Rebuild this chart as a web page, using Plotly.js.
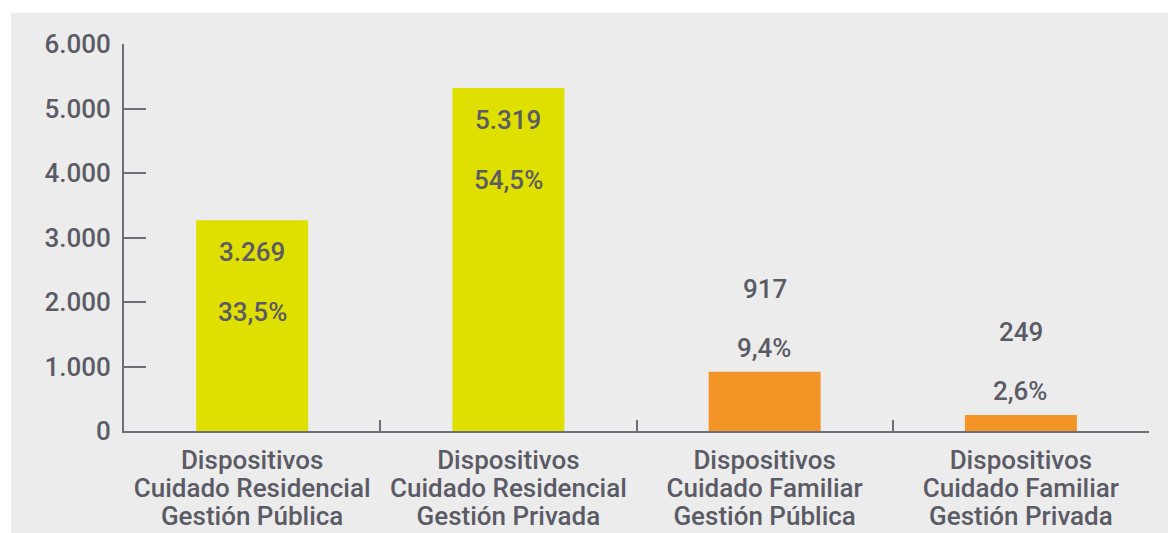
<!DOCTYPE html>
<html>
<head>
<meta charset="utf-8">
<script src="https://cdn.plot.ly/plotly-3.0.1.min.js"></script>
<style>
  html, body { margin: 0; padding: 0; background: #ffffff; width: 1168px; height: 533px; overflow: hidden; }
  #chart { position: absolute; left: 11px; top: 13px; width: 1157px; height: 520px; }
</style>
</head>
<body>
<div id="chart"></div>
<script>
const categoryLines = [
  ["Dispositivos", "Cuidado Residencial", "Gestión Pública"],
  ["Dispositivos", "Cuidado Residencial", "Gestión Privada"],
  ["Dispositivos", "Cuidado Familiar", "Gestión Pública"],
  ["Dispositivos", "Cuidado Familiar", "Gestión Privada"]
];
const values = [3269, 5319, 917, 249];
const valueLabels = ["3.269", "5.319", "917", "249"];
const percentLabels = ["33,5%", "54,5%", "9,4%", "2,6%"];
const barColors = ["#dfdf00", "#dfdf00", "#f39427", "#f39427"];
const yTickValues = [0, 1000, 2000, 3000, 4000, 5000, 6000];

const textColor = "#5b5b66";
const axisColor = "#6e6e78";
const fontFamily = "Roboto, 'Open Sans', sans-serif";

const categories = categoryLines.map(lines => lines.join("<br>"));
const categoryTickText = categoryLines.map(lines =>
  lines.map(l => '<span style="font-size:26px">' + l + '</span>').join("<br>"));

const annotations = [];
values.forEach((v, i) => {
  const inside = v > 2000;
  annotations.push({
    x: categories[i], y: v, xref: "x", yref: "y",
    text: valueLabels[i], showarrow: false,
    yanchor: "middle", yshift: inside ? -32 : 83,
    font: { family: fontFamily, size: 26, color: textColor, weight: 500 }
  });
  annotations.push({
    x: categories[i], y: v, xref: "x", yref: "y",
    text: percentLabels[i], showarrow: false,
    yanchor: "middle", yshift: inside ? -92 : 24,
    font: { family: fontFamily, size: 26, color: textColor, weight: 500 }
  });
});

const data = [{
  type: "bar",
  x: categories,
  y: values,
  marker: { color: barColors },
  hoverinfo: "skip"
}];

const layout = {
  width: 1157, height: 520,
  paper_bgcolor: "#ececec",
  plot_bgcolor: "#ececec",
  margin: { l: 113, r: 19, t: 31, b: 102 },
  separators: ",.",
  bargap: 0.563,
  showlegend: false,
  font: { family: fontFamily, color: textColor, size: 22, weight: 500 },
  xaxis: {
    type: "category",
    tickvals: categories,
    ticktext: categoryTickText,
    showline: true, linecolor: axisColor, linewidth: 2,
    ticks: "inside", tickson: "boundaries", ticklen: 11, tickwidth: 2, tickcolor: axisColor,
    showgrid: false, zeroline: false,
    tickfont: { family: fontFamily, size: 21.5, color: textColor, weight: 500 },
    ticklabelstandoff: 10
  },
  yaxis: {
    range: [0, 6000],
    tickvals: yTickValues,
    tickformat: ",d",
    showline: true, linecolor: axisColor, linewidth: 2,
    ticks: "inside", ticklen: 22, tickwidth: 2, tickcolor: axisColor,
    showgrid: false, zeroline: false,
    tickfont: { family: fontFamily, size: 26, color: textColor, weight: 500 },
    ticklabelstandoff: 6
  },
  annotations: annotations
};

Plotly.newPlot("chart", data, layout, { displayModeBar: false, staticPlot: true });
</script>
</body>
</html>
